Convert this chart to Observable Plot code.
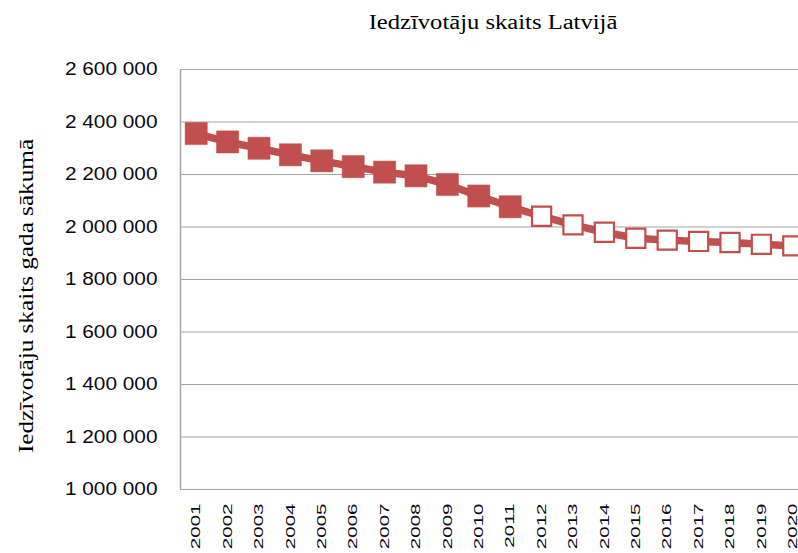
<!DOCTYPE html>
<html>
<head>
<meta charset="utf-8">
<script src="https://cdn.jsdelivr.net/npm/d3@7"></script>
<script src="https://cdn.jsdelivr.net/npm/@observablehq/plot@0.6"></script>
<style>
  html, body { margin: 0; padding: 0; background: #fff; overflow: hidden; }
  #wrap { position: relative; width: 798px; height: 553px; overflow: hidden; }
  #title { position: absolute; left: 0; width: 986px; top: 11px; text-align: center;
    font-family: "Liberation Serif", "Times New Roman", serif; font-size: 20px; color: #000; white-space: nowrap;
    transform: scaleX(1.23); }
  #ylabel { position: absolute; left: 26px; top: 296px; transform: translate(-50%, -50%) rotate(-90deg) scaleX(1.2);
    font-family: "Liberation Serif", "Times New Roman", serif; font-size: 21px; color: #000; white-space: nowrap; }
  #chart { position: absolute; left: 0; top: 0; width: 808px; }
  #chart svg { max-width: none !important; }
</style>
</head>
<body>
<div id="wrap">
  <div id="chart"></div>
  <div id="title">Iedzīvotāju skaits Latvijā</div>
  <div id="ylabel">Iedzīvotāju skaits gada sākumā</div>
</div>
<script>
const years = [2001,2002,2003,2004,2005,2006,2007,2008,2009,2010,2011,2012,2013,2014,2015,2016,2017,2018,2019,2020];
const population = [2356000,2324000,2300000,2275000,2252000,2230000,2209000,2195000,2162000,2118000,2077000,2041000,2008000,1980000,1957000,1950000,1945000,1941000,1934000,1928000];
const actualUntil = 2011; // filled markers up to this year, hollow afterwards
const yTicks = [1000000,1200000,1400000,1600000,1800000,2000000,2200000,2400000,2600000];

const data = years.map((y, i) => ({year: y, value: population[i], actual: y <= actualUntil}));
const red = "#C0504D";
const grid = "#A6A6A6";
const fmt = v => d3.format(",")(v).replace(/,/g, " ");

const chart = Plot.plot({
  width: 808,
  height: 553,
  marginLeft: 180,
  marginRight: 0,
  marginTop: 69,
  marginBottom: 64,
  style: {background: "transparent", overflow: "visible", maxWidth: "none"},
  x: {domain: [years[0] - 0.5, years[years.length - 1] + 0.5], axis: null},
  y: {domain: [yTicks[0], yTicks[yTicks.length - 1]], axis: null},
  marks: [
    Plot.ruleY(yTicks, {stroke: grid, strokeWidth: 1.2}),
    Plot.ruleX([years[0] - 0.5], {stroke: grid, strokeWidth: 1.5}),
    Plot.axisY(yTicks, {tickSize: 0, tickPadding: 23, tickFormat: fmt, label: null,
      fontSize: 17.5, fontFamily: "Liberation Sans", fill: "#0a0a14"}),
    Plot.axisX(years, {tickSize: 0, tickPadding: 14, tickRotate: -90, tickFormat: d => String(d), label: null,
      fontSize: 13, fontFamily: "Liberation Sans", fill: "#0a0a14"}),
    Plot.line(data, {x: "year", y: "value", stroke: red, strokeWidth: 7.5}),
    Plot.dot(data.filter(d => d.actual), {x: "year", y: "value", symbol: "square", r: 12.5, fill: red, stroke: red, strokeWidth: 0.5}),
    Plot.dot(data.filter(d => !d.actual), {x: "year", y: "value", symbol: "square", r: 10.8, fill: "#fff", stroke: red, strokeWidth: 2.2})
  ]
});
chart.style.maxWidth = "none";
// widen glyphs along the text direction, as in the reference rendering
chart.querySelectorAll('g[aria-label="x-axis tick label"] text').forEach(t => {
  t.setAttribute("transform", (t.getAttribute("transform") || "") + " scale(1.58,1)");
});
chart.querySelectorAll('g[aria-label="y-axis tick label"] text').forEach(t => {
  t.setAttribute("transform", (t.getAttribute("transform") || "") + " scale(1.19,1)");
});
document.getElementById("chart").appendChild(chart);
</script>
</body>
</html>
